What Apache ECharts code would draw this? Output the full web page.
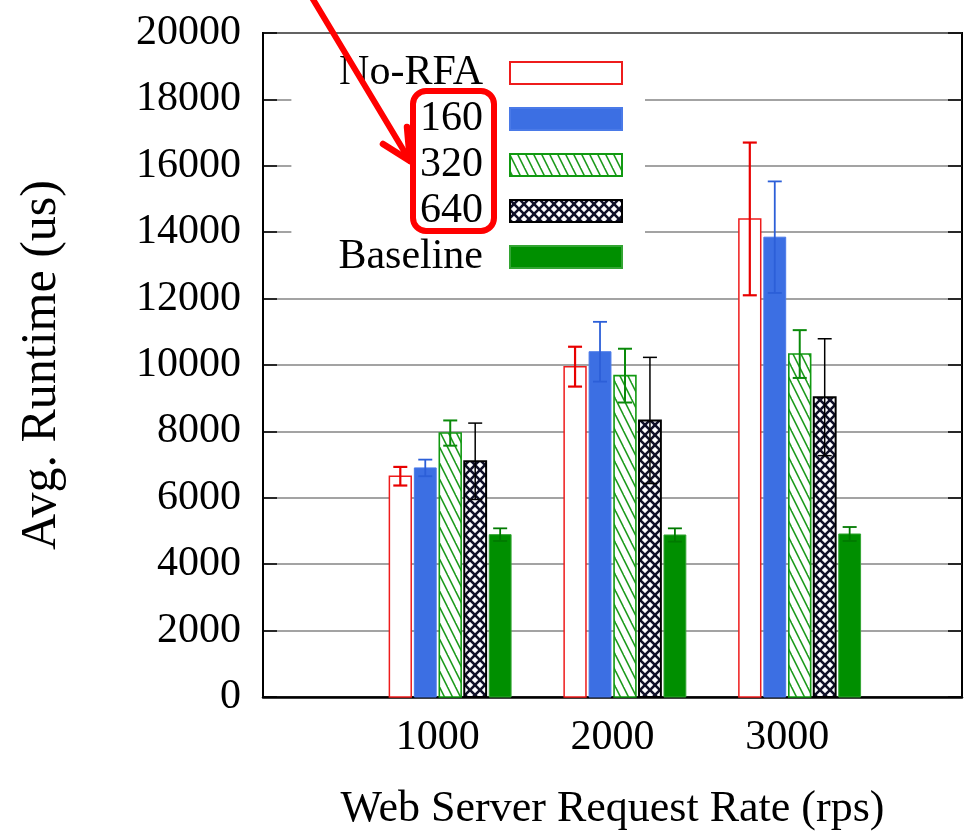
<!DOCTYPE html>
<html>
<head>
<meta charset="utf-8">
<script src="https://cdn.jsdelivr.net/npm/echarts@6/dist/echarts.min.js"></script>
<style>
  html, body { margin: 0; padding: 0; background: #fff; }
  #chart { width: 965px; height: 836px; }
</style>
</head>
<body>
<div id="chart"></div>
<script>
// Request-rate groups on the x axis
const categories = ['1000', '2000', '3000'];
const seriesNames = ['No-RFA', '160', '320', '640', 'Baseline'];

// Average runtime (us) and error half-widths per configuration
const noRfa = [6650, 9950, 14400];
const noRfaErr = [280, 600, 2300];
const rfa160 = [6900, 10400, 13850];
const rfa160Err = [250, 900, 1680];
const rfa320 = [7950, 9680, 10330];
const rfa320Err = [380, 810, 720];
const rfa640 = [7100, 8330, 9030];
const rfa640Err = [1150, 1900, 1760];
const baseline = [4890, 4880, 4910];
const baselineErr = [190, 200, 210];

// Y axis tick labels
const yTickLabels = ['0', '2000', '4000', '6000', '8000', '10000', '12000', '14000', '16000', '18000', '20000'];

const SERIF = '"Liberation Serif", "DejaVu Serif", serif';

// --- fill patterns -------------------------------------------------------
function hatchTile() {
  const c = document.createElement('canvas');
  c.width = 8; c.height = 16;
  const g = c.getContext('2d');
  g.fillStyle = '#fff';
  g.fillRect(0, 0, 8, 16);
  g.strokeStyle = '#1c9a1c';
  g.lineWidth = 1.6;
  for (const dx of [-8, 0, 8]) {
    g.beginPath();
    g.moveTo(dx - 1, -2);
    g.lineTo(dx + 9, 18);
    g.stroke();
  }
  return c;
}

function crossTile() {
  const c = document.createElement('canvas');
  c.width = 10; c.height = 10;
  const g = c.getContext('2d');
  g.fillStyle = '#fff';
  g.fillRect(0, 0, 10, 10);
  g.strokeStyle = '#101028';
  g.lineWidth = 2.6;
  for (const dx of [-10, 0, 10]) {
    g.beginPath(); g.moveTo(dx - 1, -1); g.lineTo(dx + 11, 11); g.stroke();
    g.beginPath(); g.moveTo(dx + 11, -1); g.lineTo(dx - 1, 11); g.stroke();
  }
  return c;
}

const hatch = hatchTile();
const cross = crossTile();

const styles = [
  { fill: '#ffffff', stroke: '#ee1c1c', lineWidth: 1.5, err: '#e80000', errWidth: 2.2 },
  { fill: '#3c6fe3', stroke: '#4a7ae8', lineWidth: 1, err: '#2c5fd8', errWidth: 1.8 },
  { fill: { image: hatch, repeat: 'repeat' }, stroke: '#119911', lineWidth: 1.6, err: '#0a8a0a', errWidth: 2 },
  { fill: { image: cross, repeat: 'repeat' }, stroke: '#000000', lineWidth: 2, err: '#000000', errWidth: 1.5 },
  { fill: '#008f00', stroke: '#33a533', lineWidth: 1, err: '#007a00', errWidth: 1.8 }
];

function swatch(st) {
  const w = 114, h = 24;
  const c = document.createElement('canvas');
  c.width = w; c.height = h;
  const g = c.getContext('2d');
  if (typeof st.fill === 'string') {
    g.fillStyle = st.fill;
  } else {
    g.fillStyle = g.createPattern(st.fill.image, 'repeat');
  }
  g.fillRect(0, 0, w, h);
  const lw = Math.max(2, st.lineWidth);
  g.strokeStyle = st.stroke;
  g.lineWidth = lw;
  g.strokeRect(lw / 2, lw / 2, w - lw, h - lw);
  return c.toDataURL();
}

// --- bar geometry in x-axis units (one group per unit) ---------------------
const SLOT = 1 / 7;
const BAR_W = 0.125;
const GROUP_SHIFT = SLOT / 2;
const CAP_HALF = 7;

function makeRender(k) {
  const st = styles[k];
  return function (params, api) {
    const i = api.value(0);
    const v = api.value(1);
    const e = api.value(2);
    const cx = i + GROUP_SHIFT + (k - 2) * SLOT;
    const a = api.coord([cx - BAR_W / 2, 0]);
    const b = api.coord([cx + BAR_W / 2, v]);
    const top = api.coord([cx, v + e]);
    const bot = api.coord([cx, v - e]);
    const errStyle = { stroke: st.err, lineWidth: st.errWidth };
    return {
      type: 'group',
      children: [
        {
          type: 'rect',
          shape: { x: a[0], y: b[1], width: b[0] - a[0], height: a[1] - b[1] },
          style: { fill: st.fill, stroke: st.stroke, lineWidth: st.lineWidth }
        },
        { type: 'line', shape: { x1: top[0], y1: top[1], x2: bot[0], y2: bot[1] }, style: errStyle },
        { type: 'line', shape: { x1: top[0] - CAP_HALF, y1: top[1], x2: top[0] + CAP_HALF, y2: top[1] }, style: errStyle },
        { type: 'line', shape: { x1: bot[0] - CAP_HALF, y1: bot[1], x2: bot[0] + CAP_HALF, y2: bot[1] }, style: errStyle }
      ]
    };
  };
}

const values = [noRfa, rfa160, rfa320, rfa640, baseline];
const errors = [noRfaErr, rfa160Err, rfa320Err, rfa640Err, baselineErr];

const series = seriesNames.map((name, k) => ({
  type: 'custom',
  name: name,
  renderItem: makeRender(k),
  encode: { x: 0, y: 1 },
  data: categories.map((c, i) => [i, values[k][i], errors[k][i]]),
  z: 3
}));

const yMin = Number(yTickLabels[0]);
const yMax = Number(yTickLabels[yTickLabels.length - 1]);
const yStep = Number(yTickLabels[1]) - yMin;

const chart = echarts.init(document.getElementById('chart'), null, { renderer: 'canvas' });

chart.setOption({
  animation: false,
  backgroundColor: '#fff',
  grid: {
    left: 263, right: 2, top: 33, bottom: 137,
    show: true, borderColor: '#000', borderWidth: 2, backgroundColor: 'transparent'
  },
  xAxis: {
    type: 'value', min: -1, max: 3, interval: 1,
    axisLine: { show: true, onZero: false, lineStyle: { color: '#000', width: 2.5 } },
    axisTick: { show: false },
    splitLine: { show: false },
    axisLabel: {
      formatter: (v) => categories[v] || '',
      fontFamily: SERIF, fontSize: 42, color: '#000', margin: 20
    },
    name: 'Web Server Request Rate (rps)',
    nameLocation: 'middle', nameGap: 90,
    nameTextStyle: { fontFamily: SERIF, fontSize: 44, color: '#000' }
  },
  yAxis: [
    {
      type: 'value', min: yMin, max: yMax, interval: yStep, position: 'left',
      axisLine: { show: true, onZero: false, lineStyle: { color: '#000', width: 2 } },
      axisTick: { show: true, inside: true, length: 14, lineStyle: { color: '#000', width: 1.5 } },
      axisLabel: {
        formatter: (v) => yTickLabels[Math.round((v - yMin) / yStep)],
        fontFamily: SERIF, fontSize: 42, color: '#000', margin: 22
      },
      splitLine: { show: true, lineStyle: { color: '#858585', width: 1.5 } },
      name: 'Avg. Runtime (us)',
      nameLocation: 'middle', nameGap: 196,
      nameTextStyle: { fontFamily: SERIF, fontSize: 50, color: '#000' }
    },
    {
      type: 'value', min: yMin, max: yMax, interval: yStep, position: 'right',
      axisLine: { show: false, onZero: false },
      axisTick: { show: true, inside: true, length: 14, lineStyle: { color: '#000', width: 1.5 } },
      axisLabel: { show: false },
      splitLine: { show: false }
    }
  ],
  legend: {
    data: seriesNames.map((n, k) => ({ name: n, icon: 'image://' + swatch(styles[k]) })),
    orient: 'vertical', align: 'right',
    right: 320, top: 35,
    itemWidth: 114, itemHeight: 24, itemGap: 4,
    padding: [17, 22, 6, 47],
    backgroundColor: '#fff',
    selectedMode: false,
    textStyle: { fontFamily: SERIF, fontSize: 42, color: '#000', padding: [0, 21, 0, 0] }
  },
  graphic: [
    {
      type: 'rect', z: 100,
      shape: { x: 413, y: 91, width: 81, height: 140, r: 13 },
      style: { fill: 'none', stroke: '#ff0000', lineWidth: 6 }
    },
    {
      type: 'polyline', z: 100,
      shape: { points: [[311, -4], [410, 161]] },
      style: { stroke: '#ff0000', lineWidth: 6, lineCap: 'round' }
    },
    {
      type: 'polyline', z: 100,
      shape: { points: [[383, 144], [410, 161], [407, 127]] },
      style: { stroke: '#ff0000', lineWidth: 6.5, lineCap: 'round', lineJoin: 'round', fill: 'none' }
    }
  ],
  series: series
});
</script>
</body>
</html>
